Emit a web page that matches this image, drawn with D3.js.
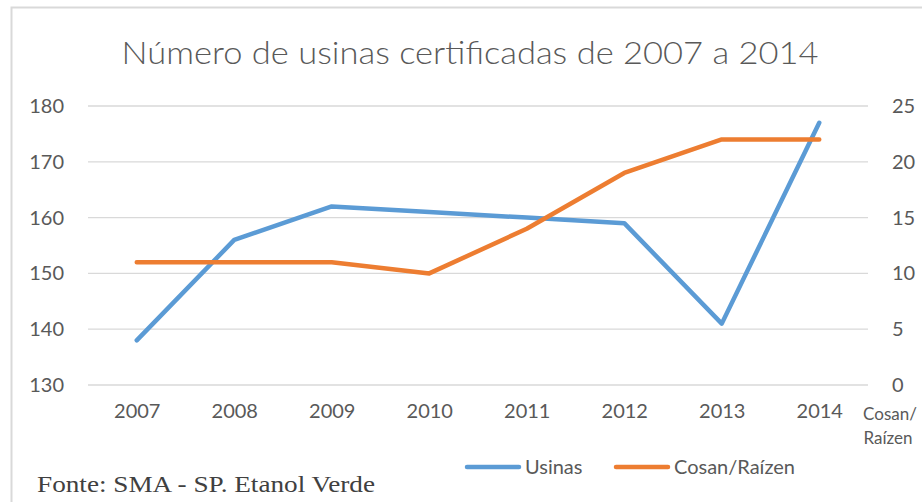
<!DOCTYPE html>
<html><head><meta charset="utf-8">
<script src="https://cdn.jsdelivr.net/npm/d3@7"></script>
<style>body{margin:0;background:#fff;} svg{display:block;}</style>
</head><body>
<svg id="c" width="922" height="502"></svg>
<script>
const years = ["2007","2008","2009","2010","2011","2012","2013","2014"];
const usinas = [138,156,162,161,160,159,141,177];
const cosan = [11,11,11,10,14,19,22,22];
const leftTicks = [130,140,150,160,170,180];
const rightTicks = [0,5,10,15,20,25];

const svg = d3.select("#c");
const font = "Lato, 'Open Sans', sans-serif";
const txt = "#595959";
// outer border
svg.append("rect").attr("x",11.5).attr("y",7.5).attr("width",930).attr("height",520)
  .attr("fill","#fff").attr("stroke","#d9d9d9").attr("stroke-width",2);

const m = {l:88, r:868, t:106, b:385};
const x = d3.scalePoint().domain(years).range([m.l,m.r]).padding(0.5);
const yL = d3.scaleLinear().domain([130,180]).range([m.b,m.t]);
const yR = d3.scaleLinear().domain([0,25]).range([m.b,m.t]);

// gridlines
svg.append("g").selectAll("line").data(leftTicks).join("line")
  .attr("x1",m.l).attr("x2",m.r).attr("y1",d=>yL(d)).attr("y2",d=>yL(d))
  .attr("stroke","#d9d9d9").attr("stroke-width",1.3);

// title
svg.append("text").attr("x",470).attr("y",64).attr("text-anchor","middle")
  .attr("font-family",font).attr("font-weight",300).attr("font-size",32).attr("fill",txt)
  .attr("textLength",697).attr("lengthAdjust","spacingAndGlyphs")
  .text("Número de usinas certificadas de 2007 a 2014");

// left axis
const ax = d3.axisLeft(yL).tickValues(leftTicks).tickSize(0).tickPadding(0);
const gL = svg.append("g").attr("transform",`translate(64,0)`).call(ax);
gL.select(".domain").remove();
gL.selectAll("text").attr("font-family",font).attr("font-size",20).attr("fill",txt);

const axR = d3.axisRight(yR).tickValues(rightTicks).tickSize(0).tickPadding(0);
const gR = svg.append("g").attr("transform",`translate(892,0)`).call(axR);
gR.select(".domain").remove();
gR.selectAll("text").attr("font-family",font).attr("font-size",20).attr("fill",txt);

const axB = d3.axisBottom(x).tickSize(0).tickPadding(0);
const gB = svg.append("g").attr("transform",`translate(0,404)`).call(axB);
gB.select(".domain").remove();
gB.selectAll("text").attr("font-family",font).attr("font-size",20).attr("fill",txt);

// right axis title
const rt = svg.append("text").attr("font-family",font).attr("font-size",17).attr("fill",txt).attr("text-anchor","middle");
rt.append("tspan").attr("x",890).attr("y",420).text("Cosan/");
rt.append("tspan").attr("x",888).attr("y",444).text("Raízen");

// lines
const lineL = d3.line().x((d,i)=>x(years[i])).y(d=>yL(d));
const lineR = d3.line().x((d,i)=>x(years[i])).y(d=>yR(d));
svg.append("path").datum(usinas).attr("d",lineL).attr("fill","none")
  .attr("stroke","#5b9bd5").attr("stroke-width",4.5).attr("stroke-linecap","round").attr("stroke-linejoin","round");
svg.append("path").datum(cosan).attr("d",lineR).attr("fill","none")
  .attr("stroke","#ed7d31").attr("stroke-width",4.5).attr("stroke-linecap","round").attr("stroke-linejoin","round");

// legend
const leg = [{n:"Usinas",c:"#5b9bd5",x:467},{n:"Cosan/Raízen",c:"#ed7d31",x:616}];
const lg = svg.append("g").selectAll("g").data(leg).join("g");
lg.append("line").attr("x1",d=>d.x).attr("x2",d=>d.x+52).attr("y1",467).attr("y2",467)
  .attr("stroke",d=>d.c).attr("stroke-width",4.5).attr("stroke-linecap","round");
lg.append("text").attr("x",d=>d.x+58).attr("y",474).attr("font-family",font).attr("font-size",20)
  .attr("fill",txt).text(d=>d.n);

// source
svg.append("text").attr("x",37).attr("y",492).attr("font-family","'Liberation Serif', 'Times New Roman', serif")
  .attr("font-size",23).attr("fill","#404040").attr("textLength",338).attr("lengthAdjust","spacingAndGlyphs")
  .text("Fonte: SMA - SP. Etanol Verde");
</script>
</body></html>
